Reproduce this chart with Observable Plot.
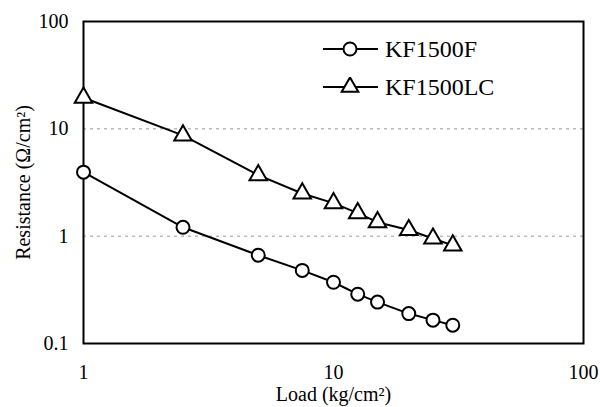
<!DOCTYPE html>
<html><head><meta charset="utf-8">
<script src="https://cdn.jsdelivr.net/npm/d3@7"></script>
<script src="https://cdn.jsdelivr.net/npm/@observablehq/plot@0.6"></script>
<style>
body{margin:0;background:#fff;}
#wrap{position:relative;width:600px;height:407px;font-family:"Liberation Serif","Tinos","DejaVu Serif",serif;}
#wrap svg text{font-family:"Liberation Serif","Tinos","DejaVu Serif",serif;}
#legend{position:absolute;left:323px;top:30px;font-size:24px;color:#000;}
#legend .row{display:flex;align-items:center;height:38px;}
#legend svg{margin-right:7px;}
</style>
</head><body>
<div id="wrap"></div>
<script>
const loads = [1, 2.5, 5, 7.5, 10, 12.5, 15, 20, 25, 30];
const kf1500F = [3.95, 1.21, 0.665, 0.48, 0.372, 0.288, 0.243, 0.19, 0.165, 0.148];
const kf1500LC = [19.5, 8.7, 3.7, 2.5, 2.03, 1.64, 1.35, 1.14, 0.95, 0.82];
const seriesNames = ["KF1500F", "KF1500LC"];
const seriesSymbols = ["circle", "triangle"];
const xTicks = [1, 10, 100];
const yTicks = [0.1, 1, 10, 100];
const gridValues = [1, 10];

const data = [];
[kf1500F, kf1500LC].forEach((vals, i) => {
  vals.forEach((v, j) => data.push({series: seriesNames[i], symbol: seriesSymbols[i], x: loads[j], y: v}));
});

const serif = "'Liberation Serif', 'Tinos', 'DejaVu Serif', serif";
const chart = Plot.plot({
  width: 600, height: 407,
  marginLeft: 83, marginRight: 17, marginTop: 21, marginBottom: 64,
  style: {fontFamily: serif, fontSize: "20px", background: "#fff", color: "#000"},
  x: {type: "log", domain: [1, 100]},
  y: {type: "log", domain: [0.1, 100]},
  symbol: {domain: seriesSymbols, range: seriesSymbols},
  marks: [
    Plot.gridY(gridValues, {stroke: "#999", strokeOpacity: 1, strokeDasharray: "3,4", strokeWidth: 1}),
    Plot.frame({stroke: "#000", strokeWidth: 2}),
    Plot.axisX(xTicks, {tickSize: 0, tickPadding: 21, fontSize: 20, tickFormat: d => String(d),
      label: "Load (kg/cm²)", labelAnchor: "center", labelOffset: 57, labelArrow: "none"}),
    Plot.axisY(yTicks, {tickSize: 0, tickPadding: 15, fontSize: 20, tickFormat: d => String(d),
      label: "Resistance (Ω/cm²)", labelAnchor: "center", labelOffset: 68, labelArrow: "none"}),
    Plot.line(data, {x: "x", y: "y", z: "series", stroke: "#000", strokeWidth: 2}),
    Plot.dot(data, {x: "x", y: "y", symbol: "symbol", r: 6.5, fill: "#fff", stroke: "#000", strokeWidth: 2})
  ]
});
chart.querySelectorAll("[aria-label='x-axis label'] text, [aria-label='y-axis label'] text").forEach(t => t.style.fontSize = "20px");
const wrap = document.getElementById("wrap");
wrap.appendChild(chart);

const legend = document.createElement("div");
legend.id = "legend";
seriesNames.forEach((name, i) => {
  const row = document.createElement("div");
  row.className = "row";
  const sym = seriesSymbols[i] === "circle"
    ? '<circle cx="27" cy="10" r="6.5" fill="#fff" stroke="#000" stroke-width="2"/>'
    : '<path d="' + d3.symbol(d3.symbolTriangle, 120)() + '" transform="translate(27,10)" fill="#fff" stroke="#000" stroke-width="2"/>';
  row.innerHTML = '<svg width="55" height="20"><line x1="0" x2="55" y1="10" y2="10" stroke="#000" stroke-width="2"/>' + sym + '</svg><span>' + name + '</span>';
  legend.appendChild(row);
});
wrap.appendChild(legend);
</script>
</body></html>
